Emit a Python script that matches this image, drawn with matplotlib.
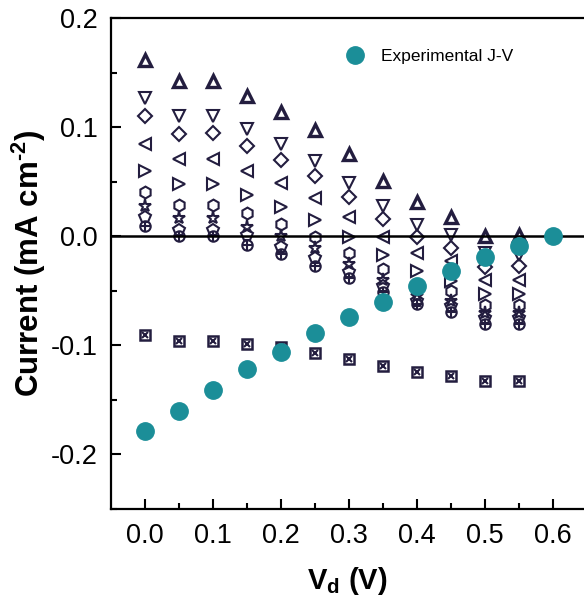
import matplotlib
matplotlib.use("Agg")
import matplotlib.pyplot as plt

plt.rcParams["font.family"] = ["Liberation Sans", "DejaVu Sans"]
plt.rcParams["mathtext.fontset"] = "custom"
plt.rcParams["mathtext.rm"] = "Liberation Sans:bold"
plt.rcParams["mathtext.bf"] = "Liberation Sans:bold"
plt.rcParams["mathtext.it"] = "Liberation Sans:bold"

NAVY = "#231d3f"
TEAL = "#1b8e98"

# simulated J-V curves (one per parameter set)
v_sim = [0.0, 0.05, 0.10, 0.15, 0.20, 0.25, 0.30, 0.35, 0.40, 0.45, 0.50, 0.55]
v_tri_up = v_sim + [0.60]
j_tri_up = [0.162, 0.142, 0.142, 0.129, 0.114, 0.097, 0.075, 0.0505, 0.031, 0.018, 0.0, 0.001, 0.208]
j_tri_down = [0.127, 0.110, 0.110, 0.098, 0.085, 0.069, 0.049, 0.028, 0.010, 0.001, -0.015, -0.017]
j_diamond = [0.110, 0.094, 0.095, 0.083, 0.070, 0.055, 0.036, 0.016, -0.001, -0.011, -0.028, -0.027]
j_tri_left = [0.085, 0.071, 0.071, 0.060, 0.049, 0.035, 0.0176, -0.0006, -0.015, -0.023, -0.040, -0.040]
j_tri_right = [0.060, 0.0475, 0.0475, 0.038, 0.027, 0.0146, -0.001, -0.017, -0.032, -0.041, -0.053, -0.053]
j_hexagon = [0.041, 0.029, 0.029, 0.021, 0.011, -0.0006, -0.015, -0.030, -0.045, -0.050, -0.063, -0.063]
j_star = [0.028, 0.0167, 0.0167, 0.0085, 0.0, -0.011, -0.0256, -0.040, -0.055, -0.059, -0.0706, -0.0706]
j_pentagon = [0.018, 0.006, 0.006, 0.001, -0.0098, -0.0195, -0.0326, -0.046, -0.059, -0.064, -0.075, -0.075]
j_circ_plus = [0.0098, 0.0, 0.0, -0.008, -0.0164, -0.027, -0.0387, -0.051, -0.062, -0.069, -0.080, -0.080]
j_sq_cross = [-0.0904, -0.0956, -0.0956, -0.099, -0.102, -0.107, -0.113, -0.119, -0.1245, -0.128, -0.133, -0.133]

# experimental data
v_exp = [0.0, 0.05, 0.10, 0.15, 0.20, 0.25, 0.30, 0.35, 0.40, 0.45, 0.50, 0.55, 0.60]
j_exp = [-0.179, -0.160, -0.141, -0.122, -0.106, -0.089, -0.074, -0.060, -0.046, -0.032, -0.019, -0.009, 0.0]

fig = plt.figure(figsize=(5.84, 6.03), dpi=100)
ax = fig.add_axes([0.190, 0.156, 0.810, 0.814])

open_kw = dict(linestyle="none", markerfacecolor="none", markeredgecolor=NAVY,
               markersize=8.5, markeredgewidth=1.5, zorder=3)

ax.plot(v_tri_up, j_tri_up, marker="^", **{**open_kw, "markersize": 8, "markeredgewidth": 2.4})
ax.plot(v_sim, j_tri_down, marker="v", **open_kw)
ax.plot(v_sim, j_diamond, marker="D", **{**open_kw, "markersize": 7.5})
ax.plot(v_sim, j_tri_left, marker="<", **open_kw)
ax.plot(v_sim, j_tri_right, marker=">", **open_kw)
ax.plot(v_sim, j_hexagon, marker="h", **open_kw)
ax.plot(v_sim, j_star, marker="*", **{**open_kw, "markersize": 9.5})
ax.plot(v_sim, j_pentagon, marker="p", **open_kw)
ax.plot(v_sim, j_circ_plus, marker="o", **{**open_kw, "markersize": 7.5})
ax.plot(v_sim, j_circ_plus, marker="+", **{**open_kw, "markersize": 7.5})
ax.plot(v_sim, j_sq_cross, marker="s", **{**open_kw, "markersize": 7.5, "markeredgewidth": 1.8})
ax.plot(v_sim, j_sq_cross, marker="x", **{**open_kw, "markersize": 5})

ax.plot(v_exp, j_exp, linestyle="none", marker="o", markersize=12.5, color=TEAL,
        zorder=5, label="Experimental J-V")

ax.axhline(0, color="black", linewidth=1.8, zorder=4)

ax.set_xlim(-0.05, 0.645)
ax.set_ylim(-0.25, 0.2)
ax.set_xticks([0.0, 0.1, 0.2, 0.3, 0.4, 0.5, 0.6])
ax.set_xticks([0.05, 0.15, 0.25, 0.35, 0.45, 0.55], minor=True)
ax.set_yticks([-0.2, -0.1, 0.0, 0.1, 0.2])
ax.set_yticks([-0.25, -0.15, -0.05, 0.05, 0.15], minor=True)
ax.set_xticklabels(["0.0", "0.1", "0.2", "0.3", "0.4", "0.5", "0.6"])
ax.set_yticklabels(["-0.2", "-0.1", "0.0", "0.1", "0.2"])

ax.tick_params(which="both", direction="in", width=1.5, labelsize=19.5)
ax.tick_params(which="major", length=7)
ax.tick_params(which="minor", length=4)
ax.tick_params(axis="x", pad=10)
ax.tick_params(axis="y", pad=9.5)
for side in ["left", "bottom", "top"]:
    ax.spines[side].set_linewidth(1.6)
ax.spines["right"].set_visible(False)

ax.set_xlabel(r"V$_{\mathrm{d}}$ (V)", fontsize=21, fontweight="bold", labelpad=12)
ax.set_ylabel(r"Current (mA cm$^{\text{-2}}$)", fontsize=22.5, fontweight="bold", labelpad=2)

ax.legend(loc="upper left", bbox_to_anchor=(0.447, 0.97), frameon=False, fontsize=12.5,
          handletextpad=0.45, markerscale=1.0)

fig.savefig("out.png", dpi=100)
